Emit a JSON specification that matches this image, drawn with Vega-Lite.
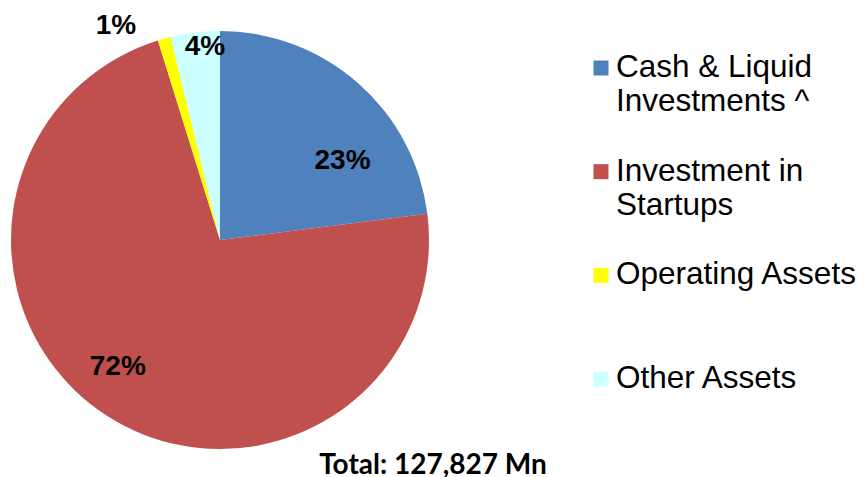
{
  "$schema": "https://vega.github.io/schema/vega-lite/v6.json",
  "padding": {"left": 11, "top": 5, "right": 5, "bottom": 0},
  "background": "white",
  "config": {"view": {"stroke": null}},
  "bounds": "flush",
  "data": {"values": [
    {"category": "Cash & Liquid\nInvestments ^", "share": 0.230},
    {"category": "Investment in\nStartups", "share": 0.722},
    {"category": "Operating Assets", "share": 0.010},
    {"category": "Other Assets", "share": 0.038}
  ]},
  "hconcat": [
    {
      "width": 418,
      "height": 418,
      "title": {"text": "Total: 127,827 Mn", "orient": "bottom", "anchor": "middle", "dx": 213, "offset": 3, "font": "Lato", "fontSize": 28, "fontWeight": "bold", "color": "#000000"},
      "encoding": {
        "theta": {"field": "share", "type": "quantitative", "stack": true},
        "order": {"field": "category", "type": "nominal", "sort": "ascending"}
      },
      "layer": [
        {
          "mark": {"type": "arc"},
          "encoding": {
            "color": {"field": "category", "type": "nominal", "legend": null,
              "scale": {"domain": ["Cash & Liquid\nInvestments ^", "Investment in\nStartups", "Operating Assets", "Other Assets"], "range": ["#4F81BD", "#C0504D", "#FFFF00", "#CCFFFF"]}}
          }
        },
        {
          "mark": {"type": "text", "radius": 146, "dx": 26, "dy": 31, "font": "Liberation Sans", "fontSize": 28, "fontWeight": "bold", "color": "#000000"},
          "encoding": {
            "detail": {"field": "category", "type": "nominal"},
            "text": {"condition": {"test": "indexof(datum.category, 'Cash') === 0", "field": "share", "type": "quantitative", "format": ".0%"}, "value": ""}
          }
        },
        {
          "mark": {"type": "text", "radius": 163, "dx": -14, "dy": -10, "font": "Liberation Sans", "fontSize": 28, "fontWeight": "bold", "color": "#000000"},
          "encoding": {
            "detail": {"field": "category", "type": "nominal"},
            "text": {"condition": {"test": "indexof(datum.category, 'Investment in') === 0", "field": "share", "type": "quantitative", "format": ".0%"}, "value": ""}
          }
        },
        {
          "mark": {"type": "text", "radius": 225, "dx": -44, "dy": 2.5, "font": "Liberation Sans", "fontSize": 28, "fontWeight": "bold", "color": "#000000"},
          "encoding": {
            "detail": {"field": "category", "type": "nominal"},
            "text": {"condition": {"test": "indexof(datum.category, 'Operating') === 0", "field": "share", "type": "quantitative", "format": ".0%"}, "value": ""}
          }
        },
        {
          "mark": {"type": "text", "radius": 193, "dx": 8, "dy": -1, "font": "Liberation Sans", "fontSize": 28, "fontWeight": "bold", "color": "#000000"},
          "encoding": {
            "detail": {"field": "category", "type": "nominal"},
            "text": {"condition": {"test": "indexof(datum.category, 'Other') === 0", "field": "share", "type": "quantitative", "format": ".0%"}, "value": ""}
          }
        }
      ]
    },
    {
      "width": 304,
      "height": 385,
      "encoding": {
        "y": {"field": "category", "type": "nominal", "axis": null, "scale": {"type": "point", "padding": 0.357}}
      },
      "layer": [
        {
          "mark": {"type": "square", "size": 225, "filled": true, "opacity": 1},
          "encoding": {
            "color": {"field": "category", "type": "nominal", "legend": null,
              "scale": {"domain": ["Cash & Liquid\nInvestments ^", "Investment in\nStartups", "Operating Assets", "Other Assets"], "range": ["#4F81BD", "#C0504D", "#FFFF00", "#CCFFFF"]}}
          }
        },
        {
          "mark": {"type": "text", "align": "left", "baseline": "middle", "dx": 15, "font": "Liberation Sans", "fontSize": 31.5, "lineBreak": "\n", "lineHeight": 34, "color": "#000000"},
          "encoding": {
            "text": {"field": "category", "type": "nominal"}
          }
        }
      ]
    }
  ],
  "spacing": 20
}
